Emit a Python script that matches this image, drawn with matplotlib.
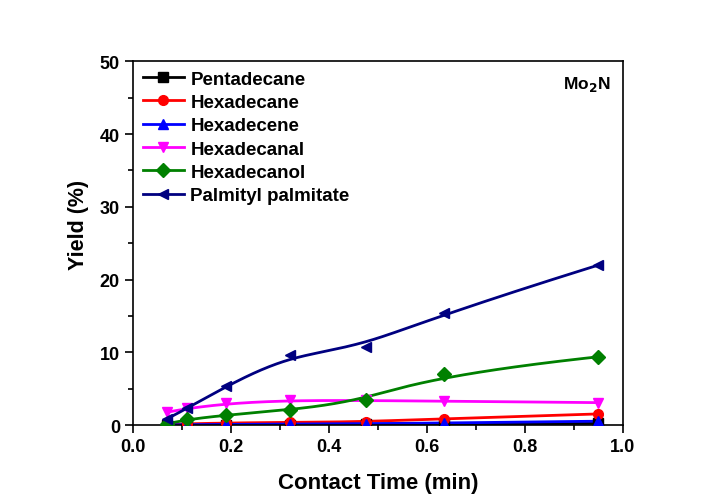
import numpy as np
import matplotlib
matplotlib.use("Agg")
import matplotlib.pyplot as plt
from matplotlib.ticker import MultipleLocator, FormatStrFormatter

plt.rcParams['font.family'] = ['Liberation Sans', 'DejaVu Sans']
plt.rcParams['font.weight'] = 'bold'
plt.rcParams['mathtext.default'] = 'bf'

contact_time = [0.07, 0.11, 0.19, 0.32, 0.475, 0.635, 0.95]
pentadecane = [0.0, 0.02, 0.05, 0.08, 0.1, 0.15, 0.25]
hexadecane = [0.1, 0.2, 0.3, 0.4, 0.45, 0.9, 1.55]
hexadecene = [0.05, 0.08, 0.1, 0.15, 0.2, 0.3, 0.55]
hexadecanal = [1.8, 2.3, 3.0, 3.4, 3.4, 3.3, 3.1]
hexadecanol = [0.2, 0.8, 1.4, 2.1, 3.4, 7.1, 9.4]
palmityl = [0.9, 2.3, 5.4, 9.6, 10.8, 15.4, 22.0]

series = [
    ("Pentadecane", pentadecane, "black", "s"),
    ("Hexadecane", hexadecane, "red", "o"),
    ("Hexadecene", hexadecene, "blue", "^"),
    ("Hexadecanal", hexadecanal, "magenta", "v"),
    ("Hexadecanol", hexadecanol, "green", "D"),
    ("Palmityl palmitate", palmityl, "navy", "<"),
]


def bspline_curve(x, y, n=400, k=3):
    """Clamped cubic B-spline using the data points as control points."""
    P = np.column_stack([np.asarray(x, float), np.asarray(y, float)])
    m = len(P)
    inner = np.linspace(0, 1, m - k + 1)
    knots = np.concatenate([np.zeros(k), inner, np.ones(k)])
    ts = np.linspace(0, 1, n)
    out = []
    for t in ts:
        if t >= 1:
            out.append(P[-1])
            continue
        j = np.searchsorted(knots, t, side='right') - 1
        d = [P[j - k + i].copy() for i in range(k + 1)]
        for r in range(1, k + 1):
            for i in range(k, r - 1, -1):
                a = (t - knots[j - k + i]) / (knots[j + 1 + i - r] - knots[j - k + i])
                d[i] = (1 - a) * d[i - 1] + a * d[i]
        out.append(d[k])
    out = np.array(out)
    return out[:, 0], out[:, 1]


fig = plt.figure(figsize=(7.16, 5.02), dpi=100)
ax = fig.add_axes([0.186, 0.151, 0.684, 0.725])

for name, vals, col, mk in series:
    xs, ys = bspline_curve(contact_time, vals)
    ax.plot(xs, ys, color=col, lw=2, zorder=2)
    ax.plot(contact_time, vals, linestyle='none', marker=mk, color=col,
            markersize=7, zorder=3)
    ax.plot([], [], color=col, lw=2, marker=mk, markersize=7, label=name)

ax.set_xlim(0, 1.0)
ax.set_ylim(0, 50)
ax.xaxis.set_major_locator(MultipleLocator(0.2))
ax.xaxis.set_minor_locator(MultipleLocator(0.1))
ax.yaxis.set_major_locator(MultipleLocator(10))
ax.yaxis.set_minor_locator(MultipleLocator(5))
ax.tick_params(which='both', direction='out', labelsize=13, width=1.2)
ax.tick_params(which='major', length=6)
ax.tick_params(which='minor', length=3.5)
ax.xaxis.set_major_formatter(FormatStrFormatter('%.1f'))
for lab in ax.get_xticklabels() + ax.get_yticklabels():
    lab.set_fontweight('bold')
for s in ax.spines.values():
    s.set_linewidth(1.2)

ax.set_xlabel("Contact Time (min)", fontsize=16, fontweight='bold', labelpad=12)
ax.set_ylabel("Yield (%)", fontsize=15.5, fontweight='bold')
ax.yaxis.set_label_coords(-0.09, 0.552)

leg = ax.legend(loc='upper left', frameon=False,
                handlelength=2.2, borderaxespad=0.2, labelspacing=0.33,
                handletextpad=0.35, borderpad=0.3,
                prop={'weight': 'bold', 'size': 13.5})
ax.text(0.975, 0.965, "Mo$_2$N", transform=ax.transAxes, ha='right', va='top',
        fontsize=12.5, fontweight='bold')

fig.savefig("out.png", dpi=100)
